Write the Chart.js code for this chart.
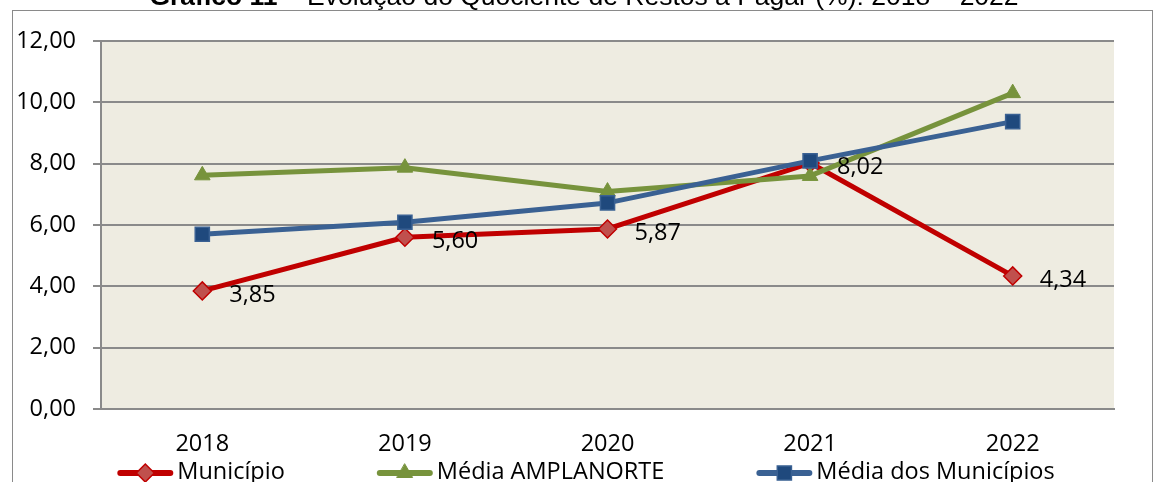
<!DOCTYPE html>
<html lang="pt-BR">
<head>
<meta charset="utf-8">
<title>Quociente de Restos a Pagar</title>
<script src="https://cdn.jsdelivr.net/npm/chart.js@4/dist/chart.umd.min.js"></script>
<style>
  html, body { margin: 0; padding: 0; background: #ffffff; }
  #wrap { width: 1154px; height: 482px; position: relative; }
</style>
</head>
<body>
<div id="wrap"><canvas id="chart" width="1154" height="482"></canvas></div>
<script>
// Anos analisados
const anos = ['2018', '2019', '2020', '2021', '2022'];

// Quociente de restos a pagar (%)
const municipio = [3.85, 5.60, 5.87, 8.02, 4.34];
const mediaAmplanorte = [7.62, 7.87, 7.09, 7.60, 10.30];
const mediaMunicipios = [5.70, 6.09, 6.72, 8.09, 9.37];

// Marcas do eixo vertical
const eixoY = [0, 2, 4, 6, 8, 10, 12];

const tituloNegrito = 'Gráfico 11';
const tituloTexto = ' – Evolução do Quociente de Restos a Pagar (%): 2018 – 2022';

const fonte = '"Open Sans", "DejaVu Sans", sans-serif';
const tamanho = 23.5;
const fmt = v => v.toFixed(2).replace('.', ',');

// Moldura externa e título (parcialmente acima da área visível)
const molduraPlugin = {
  id: 'moldura',
  beforeDraw(chart) {
    const ctx = chart.ctx;
    const a = chart.chartArea;
    ctx.save();
    ctx.fillStyle = '#ffffff';
    ctx.fillRect(0, 0, chart.width, chart.height);
    ctx.strokeStyle = '#8a8a8a';
    ctx.lineWidth = 1;
    ctx.strokeRect(12.5, 10.5, chart.width - 14, chart.height + 10);
    // fundo da área de plotagem
    ctx.fillStyle = '#EEECE1';
    ctx.fillRect(a.left, a.top, a.right - a.left, a.bottom - a.top);
    // título
    ctx.textBaseline = 'alphabetic';
    ctx.fillStyle = '#000000';
    const fb = 'bold 26.5px "Liberation Sans", Arial, sans-serif';
    const fr = '26.5px "Liberation Sans", Arial, sans-serif';
    ctx.font = fb;
    const wb = ctx.measureText(tituloNegrito).width;
    ctx.font = fr;
    const wr = ctx.measureText(tituloTexto).width;
    const x0 = 584 - (wb + wr) / 2;
    ctx.font = fb;
    ctx.fillText(tituloNegrito, x0, 5);
    ctx.font = fr;
    ctx.fillText(tituloTexto, x0 + wb, 5);
    ctx.restore();
  }
};

// Rótulos de valor da série Município
const rotulosPlugin = {
  id: 'rotulos',
  afterDatasetsDraw(chart) {
    const ctx = chart.ctx;
    const meta = chart.getDatasetMeta(0);
    ctx.save();
    ctx.font = tamanho + 'px ' + fonte;
    ctx.fillStyle = '#000000';
    ctx.textAlign = 'left';
    ctx.textBaseline = 'middle';
    meta.data.forEach((pt, i) => {
      ctx.fillText(fmt(municipio[i]), pt.x + 27, pt.y + 4);
    });
    ctx.restore();
  }
};

// Legenda com linha e marcador
const legendaPlugin = {
  id: 'legenda',
  afterDraw(chart) {
    const ctx = chart.ctx;
    const ds = chart.data.datasets;
    const linha = 56, vao = 4, entre = 92;
    ctx.save();
    ctx.font = tamanho + 'px ' + fonte;
    const larguras = ds.map(d => linha + vao + ctx.measureText(d.label).width);
    const total = larguras.reduce((s, w) => s + w, 0) + entre * (ds.length - 1);
    let x = 586 - total / 2;
    const y = chart.chartArea.bottom + 64;
    ds.forEach((d, i) => {
      ctx.strokeStyle = d.borderColor;
      ctx.lineWidth = 6;
      ctx.lineCap = 'round';
      ctx.beginPath();
      ctx.moveTo(x + 3, y);
      ctx.lineTo(x + linha - 3, y);
      ctx.stroke();
      ctx.fillStyle = d.pointBackgroundColor;
      ctx.strokeStyle = d.pointBorderColor;
      ctx.lineWidth = d.pointBorderWidth;
      Chart.helpers.drawPoint(ctx, {
        pointStyle: d.pointStyle, radius: d.pointRadius, rotation: 0, borderWidth: d.pointBorderWidth
      }, x + linha / 2, y);
      ctx.fillStyle = '#000000';
      ctx.textAlign = 'left';
      ctx.textBaseline = 'middle';
      ctx.fillText(d.label, x + linha + vao, y - 1);
      x += larguras[i] + entre;
    });
    ctx.restore();
  }
};

new Chart(document.getElementById('chart'), {
  type: 'line',
  data: {
    labels: anos,
    datasets: [
      {
        label: 'Município',
        data: municipio,
        borderColor: '#C00000',
        borderWidth: 5,
        pointStyle: 'rectRot',
        pointRadius: 9,
        pointBackgroundColor: '#C0504D',
        pointBorderColor: '#C00000',
        pointBorderWidth: 1.5,
        order: 3
      },
      {
        label: 'Média AMPLANORTE',
        data: mediaAmplanorte,
        borderColor: '#77933C',
        borderWidth: 5,
        pointStyle: 'triangle',
        pointRadius: 9,
        pointBackgroundColor: '#77933C',
        pointBorderColor: '#77933C',
        pointBorderWidth: 1,
        order: 2
      },
      {
        label: 'Média dos Municípios',
        data: mediaMunicipios,
        borderColor: '#3A6193',
        borderWidth: 5,
        pointStyle: 'rect',
        pointRadius: 10,
        pointBackgroundColor: '#1F497D',
        pointBorderColor: '#3A6193',
        pointBorderWidth: 1.5,
        order: 1
      }
    ]
  },
  options: {
    responsive: false,
    animation: false,
    events: [],
    layout: { padding: { top: 41, left: 13, right: 40, bottom: 23 } },
    elements: { line: { tension: 0, borderJoinStyle: 'round' } },
    plugins: {
      legend: { display: false },
      title: { display: false },
      tooltip: { enabled: false }
    },
    scales: {
      x: {
        offset: true,
        grid: { display: false, drawTicks: false },
        border: { display: true, color: '#8a8a8a', width: 2 },
        ticks: { color: '#000000', font: { family: fonte, size: tamanho }, padding: 21 },
        afterFit(s) { s.height = 50; }
      },
      y: {
        min: eixoY[0],
        max: eixoY[eixoY.length - 1],
        afterBuildTicks(s) { s.ticks = eixoY.map(v => ({ value: v })); },
        grid: { color: '#8a8a8a', lineWidth: 2, tickLength: 8, drawTicks: true },
        border: { display: true, color: '#8a8a8a', width: 2 },
        ticks: {
          color: '#000000',
          font: { family: fonte, size: tamanho },
          padding: 17,
          callback: v => fmt(v)
        },
        afterFit(s) { s.width = 88; }
      }
    }
  },
  plugins: [molduraPlugin, rotulosPlugin, legendaPlugin]
});
</script>
</body>
</html>
